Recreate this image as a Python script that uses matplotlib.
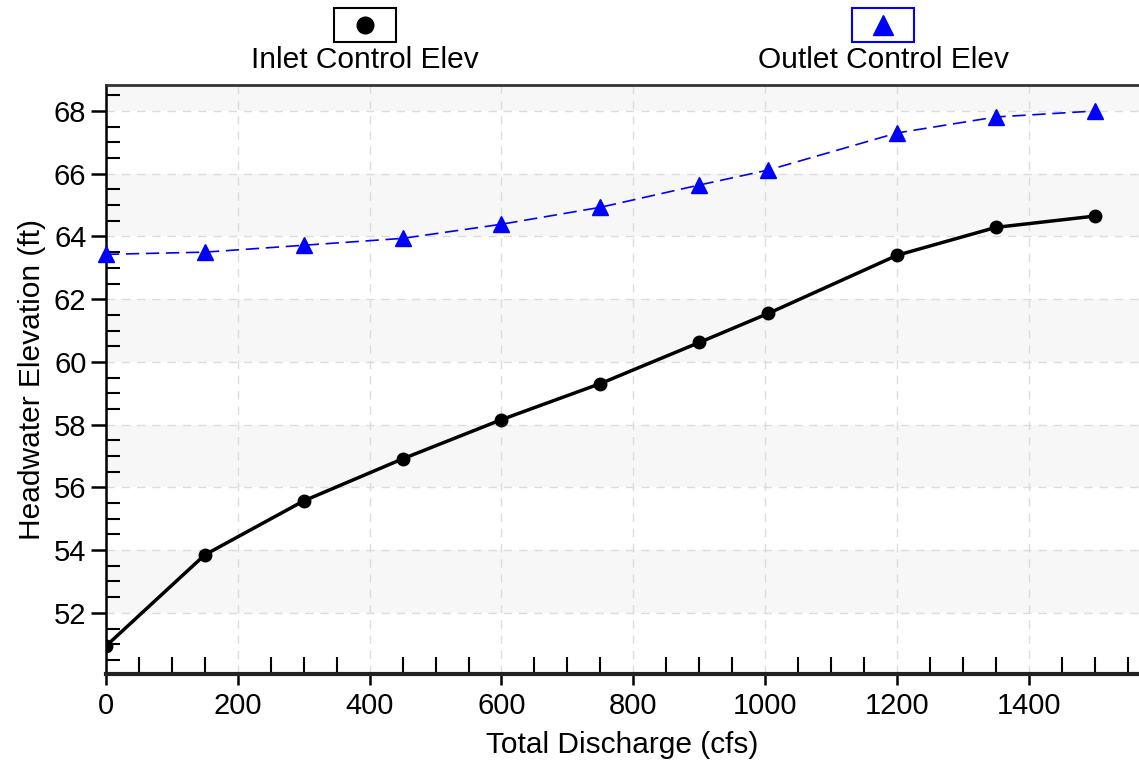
import matplotlib.pyplot as plt
from matplotlib.lines import Line2D
from matplotlib.patches import Rectangle
from matplotlib.ticker import MultipleLocator

plt.rcParams['font.family'] = ['Liberation Sans', 'DejaVu Sans']

q = [0, 150, 300, 450, 600, 750, 900, 1005, 1200, 1350, 1500]
inlet = [50.94, 53.85, 55.57, 56.91, 58.16, 59.31, 60.62, 61.55, 63.40, 64.29, 64.65]
outlet = [63.43, 63.50, 63.72, 63.94, 64.39, 64.93, 65.64, 66.12, 67.30, 67.81, 68.00]

fig = plt.figure(figsize=(11.39, 7.69), dpi=100)
ax = fig.add_axes([0.093, 0.1235, 0.907, 0.766])

ax.set_xlim(0, 1567)
ax.set_ylim(50.05, 68.83)

# alternating bands
for lo in [52, 56, 60, 64, 68]:
    ax.axhspan(lo, lo + 2, color='#f7f7f7', zorder=0, lw=0)

ax.xaxis.set_major_locator(MultipleLocator(200))
ax.xaxis.set_minor_locator(MultipleLocator(50))
ax.yaxis.set_major_locator(MultipleLocator(2))
ax.yaxis.set_minor_locator(MultipleLocator(0.5))
ax.grid(True, which='major', color='#dcdcdc', linestyle=(0, (6, 5)), lw=1, zorder=1)

ax.plot(q, inlet, color='black', lw=2.5, marker='o', ms=9, zorder=3)
ax.plot(q, outlet, color='blue', lw=1.2, ls=(0, (8, 4)), marker='^', ms=11, zorder=3, clip_on=False)

ax.spines['right'].set_visible(False)
ax.spines['top'].set_linewidth(2)
ax.spines['top'].set_color('#333333')
ax.spines['left'].set_linewidth(1.8)
ax.spines['bottom'].set_linewidth(3)
ax.spines['bottom'].set_color('#222222')

ax.tick_params(axis='both', which='major', direction='out', width=1.8, labelsize=21, colors='black')
ax.tick_params(axis='x', which='major', length=8, pad=5)
ax.tick_params(axis='y', which='major', length=11, pad=3)
ax.tick_params(axis='x', which='minor', direction='in', length=12, width=1.5)
ax.tick_params(axis='y', which='minor', direction='in', length=10, width=1.5)

ax.set_xlabel('Total Discharge (cfs)', fontsize=21.5, labelpad=8)
ax.set_ylabel('Headwater Elevation (ft)', fontsize=21.5, labelpad=6)

# legend above the plot: marker in a box, label below
W, H = 1139, 769
def legend_item(cx, label, marker, color, ms):
    bw, bh = 62, 34
    fig.add_artist(Rectangle(((cx - bw / 2) / W, 1 - 42 / H), bw / W, bh / H,
                             transform=fig.transFigure, fill=False,
                             edgecolor=color, lw=1.5))
    fig.add_artist(Line2D([cx / W], [1 - 25 / H], transform=fig.transFigure,
                          marker=marker, color=color, ms=ms, ls='none'))
    fig.text(cx / W, 1 - 60 / H, label, ha='center', va='center', fontsize=21.5)

legend_item(365, 'Inlet Control Elev', 'o', 'black', 12)
legend_item(883, 'Outlet Control Elev', '^', 'blue', 14)

fig.savefig('out.png', dpi=100)
